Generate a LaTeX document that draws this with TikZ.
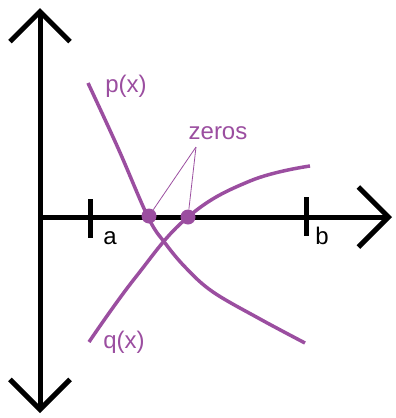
\documentclass[tikz,border=0pt]{standalone}
\usepackage{fontspec}
\setmainfont{Liberation Sans}
\usepackage{xcolor}
\usepackage{tikz}
\usetikzlibrary{arrows.meta, positioning, calc}

\definecolor{plum}{RGB}{155,78,160}

\begin{document}
\begin{tikzpicture}[
    x=1pt, y=-1pt,
    >={Straight Barb[length=30pt, width=60pt]},
    every node/.style={font=\fontsize{24}{28}\selectfont},
    axis/.style={line width=5pt, draw=black},
    tick/.style={line width=5pt, draw=black},
    curve/.style={line width=3.5pt, draw=plum},
    zero/.style={circle, fill=plum, minimum size=15pt, inner sep=0pt},
    label/.style={text=plum, inner sep=1pt},
    endlabel/.style={text=black, inner sep=1pt},
    pointer/.style={line width=0.8pt, draw=plum}
]
\useasboundingbox (0,0) rectangle (396,418);

% Axes
\coordinate (top) at (40,8);
\coordinate (bottom) at (40,413);
\coordinate (origin) at (40,217);
\coordinate (right) at (392,217);
\draw[axis, <->] (top) -- (bottom);
\draw[axis, ->] (origin) -- (right);

% Ticks a and b
\coordinate (atop) at (90,199);
\coordinate (abot) at (90,238);
\coordinate (btop) at (306,197);
\coordinate (bbot) at (306,236);
\draw[tick] (atop) -- (abot);
\draw[tick] (btop) -- (bbot);
\node[endlabel] (alabel) at (110,238) {a};
\node[endlabel] (blabel) at (322,236) {b};

% Curves p(x) and q(x)
\draw[curve] plot[smooth, tension=0.6] coordinates
    {(88,83) (118,148) (148,217) (165,243) (186,268) (213,292) (260,319) (305,343)};
\draw[curve] plot[smooth, tension=0.7] coordinates
    {(89,342) (135,278) (188,217) (250,181) (310,166)};
\node[label] (plabel) at (126,86) {p(x)};
\node[label] (qlabel) at (124,342) {q(x)};

% Zeros
\node[zero] (z1) at (149,216) {};
\node[zero] (z2) at (188,217) {};
\node[label] (zeros) at (218,133) {zeros};
\coordinate (fork) at (196,147);
\draw[pointer] (fork) -- (z1);
\draw[pointer] (fork) -- (z2);

\end{tikzpicture}
\end{document}
